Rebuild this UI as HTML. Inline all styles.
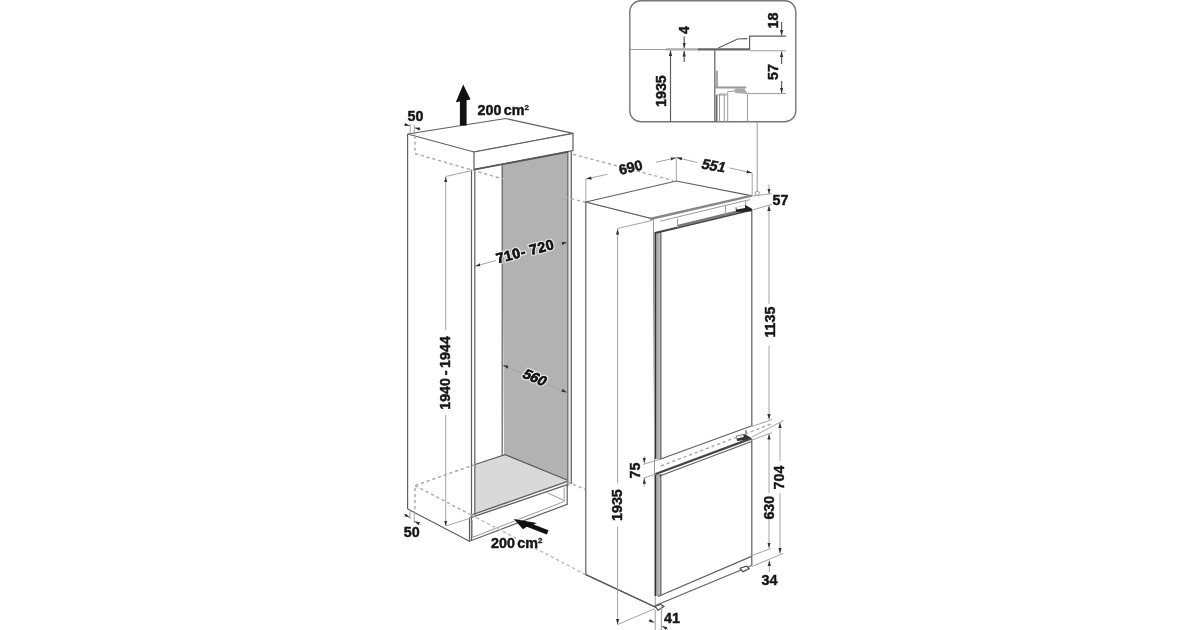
<!DOCTYPE html>
<html><head><meta charset="utf-8">
<style>
html,body{margin:0;padding:0;background:#fff;width:1200px;height:630px;overflow:hidden}
svg{display:block;filter:blur(0.4px)}
text{font-family:"Liberation Sans",sans-serif;font-weight:bold;font-size:14.3px;fill:#161616;stroke:#161616;stroke-width:0.45px}
.l{stroke:#5e5e5e;stroke-width:1.2;fill:none}
.lw{stroke:#5e5e5e;stroke-width:1.2;fill:#fff}
.t{stroke:#9a9a9a;stroke-width:1;fill:none}
.d{stroke:#a4a4a4;stroke-width:1;fill:none}
.ds{stroke:#a8a8a8;stroke-width:1.4;fill:none;stroke-dasharray:3.2 2.8}
.dp{stroke:#bfb4b7;stroke-width:1.4;fill:none;stroke-dasharray:3.2 2.8}
.k{stroke:#444;stroke-width:2.2;fill:none}
.a{fill:#111;stroke:none}
.h{stroke:#fff;stroke-width:3;stroke-opacity:0.6;paint-order:stroke}
</style></head>
<body>
<svg width="1200" height="630" viewBox="0 0 1200 630">
<defs>
<marker id="ar" viewBox="0 0 10 10" refX="10" refY="5" markerWidth="5.5" markerHeight="5.5" orient="auto-start-reverse" markerUnits="userSpaceOnUse">
<path d="M0,2 L10,5 L0,8 z" fill="#333"/>
</marker>
</defs>
<rect width="1200" height="630" fill="#fff"/>

<!-- ============ INSET ============ -->
<g id="inset">
<rect x="629.8" y="0.8" width="166" height="121" rx="11" ry="11" fill="#fff" stroke="#777" stroke-width="1.4"/>
<line class="t" x1="630" y1="49.5" x2="698" y2="49.5" stroke="#999" stroke-width="1.2"/>
<line x1="666" y1="49.3" x2="699" y2="49.3" stroke="#aaa" stroke-width="2.2"/>
<line x1="698" y1="49.3" x2="749.5" y2="49.3" stroke="#666" stroke-width="2.3"/>
<line class="t" x1="749.5" y1="50.8" x2="786" y2="50.8"/>
<polyline class="l" stroke="#777" stroke-width="1.1" points="718.3,48 737.5,39 747.5,38.7"/>
<polyline class="l" stroke="#888" stroke-width="1.1" points="749.6,50 749.6,36.2 786,36.2"/>
<!-- 1935 dim -->
<line class="l" stroke="#666" stroke-width="1" x1="670.5" y1="50.5" x2="670.5" y2="122" marker-start="url(#ar)"/>
<text transform="translate(666.4,107) rotate(-90)">1935</text>
<!-- 4 dim -->
<line class="l" stroke="#888" stroke-width="1" x1="684.2" y1="36.5" x2="684.2" y2="48.2" marker-end="url(#ar)"/>
<line class="l" stroke="#888" stroke-width="1" x1="684.2" y1="62" x2="684.2" y2="51" marker-end="url(#ar)"/>
<text transform="translate(689,34) rotate(-90)">4</text>
<!-- 18 -->
<line class="l" stroke="#888" stroke-width="1" x1="781.6" y1="22" x2="781.6" y2="35.6" marker-end="url(#ar)"/>
<text transform="translate(778.3,28.5) rotate(-90)">18</text>
<!-- 57 -->
<line class="l" stroke="#888" stroke-width="1" x1="781.6" y1="64" x2="781.6" y2="51.4" marker-end="url(#ar)"/>
<line class="l" stroke="#888" stroke-width="1" x1="781.6" y1="81" x2="781.6" y2="93.2" marker-end="url(#ar)"/>
<text transform="translate(778.3,80) rotate(-90)">57</text>
<line class="t" x1="747.8" y1="93.6" x2="786" y2="93.6"/>
<!-- fridge internals -->
<line class="l" stroke="#777" stroke-width="1.1" x1="714.8" y1="50" x2="714.8" y2="122"/>
<rect x="714.8" y="70.8" width="3.2" height="16.5" fill="#aaa"/>
<line x1="714.8" y1="87.4" x2="746.2" y2="87.4" stroke="#999" stroke-width="2"/>
<polygon points="734.9,88.4 744.2,88.4 747.8,94 734.9,93" fill="#aaa"/>
<line class="t" x1="747.5" y1="94" x2="747.5" y2="122"/>
<line x1="716.6" y1="95" x2="716.6" y2="122" stroke="#666" stroke-width="1.7"/>
<line class="t" x1="719.5" y1="94" x2="719.5" y2="122"/>
<line class="t" stroke="#888" x1="724.3" y1="95" x2="724.3" y2="122" stroke-width="1.5"/>
<line class="t" x1="727.7" y1="91.5" x2="727.7" y2="122"/>
<polyline class="t" points="715.8,95 726.6,95"/>
<polyline class="t" points="719.4,94 726.6,94"/>
<polyline class="t" points="727.7,91.5 734.9,91"/>
</g>
<line class="t" x1="757.2" y1="122" x2="757.2" y2="191.2"/>
<circle cx="757.2" cy="193.3" r="2.1" fill="#fff" stroke="#888" stroke-width="0.9"/>

<!-- ============ CABINET ============ -->
<!-- gray back panel -->
<polygon points="502,164 567.6,152.3 567.6,480.7 504,455" fill="#b2b2b2"/>
<line class="l" stroke="#888" x1="502.2" y1="164" x2="502.2" y2="456"/>
<!-- floor -->
<polygon points="475,464.5 504,455 567.6,480.7 567.6,482 475,515.6" fill="#d9d9d9"/>
<polyline class="l" stroke="#777" points="475,464.5 505,454.6 567.6,480.2"/>
<line class="l" stroke="#888" x1="470.5" y1="515.2" x2="567.6" y2="481.4"/>
<line class="t" x1="471" y1="517.8" x2="567" y2="484.5"/>
<!-- right side panel -->
<rect x="567.6" y="150" width="3.6" height="336" fill="#efefef"/>
<line class="l" stroke="#8a8a8a" x1="567.8" y1="150" x2="567.8" y2="486"/>
<line class="l" stroke="#8a8a8a" x1="571.3" y1="150" x2="571.3" y2="484"/>
<!-- left side panel -->
<line class="l" stroke="#6e6e6e" x1="407.6" y1="134" x2="407.6" y2="509"/>
<line class="l" stroke="#8a8a8a" x1="471.5" y1="169.5" x2="471.5" y2="541"/>
<line class="l" stroke="#8a8a8a" x1="474.8" y1="169.5" x2="474.8" y2="515"/>
<line class="l" stroke="#777" x1="407.6" y1="509" x2="469.5" y2="541.2"/>
<!-- plinth -->
<polygon class="l" stroke="#8a8a8a" points="469.5,518 567.2,484.8 567.2,504.3 469.5,541.2"/>
<polyline class="t" stroke="#b5b5b5" points="472.2,520 472.2,537.5 564.2,501.5 564.2,487.5"/>
<polyline class="t" stroke="#bbb" points="547.5,492.8 564,500.5"/>
<!-- top box -->
<polygon class="lw" stroke="#666" points="407.6,134 505.5,118.5 573,133.4 474,152"/>
<polygon class="lw" stroke="#666" points="474,152 573,133.4 573,150.5 474,169.5"/>
<line x1="474" y1="169.7" x2="568" y2="151.9" stroke="#555" stroke-width="1.7"/>
<!-- dashed lines -->
<polyline class="ds" points="415,135.5 415,153.5 502,178.7"/>
<line class="dp" x1="502" y1="178.7" x2="567.6" y2="197.6"/>
<line class="ds" x1="571.2" y1="198.6" x2="586" y2="202.5"/>
<line class="ds" x1="573" y1="154.3" x2="673" y2="180.5"/>
<polyline class="ds" points="475,464.5 415,485.6 415,510"/>
<line class="ds" x1="415" y1="485.6" x2="470" y2="514.3"/>
<line class="dp" x1="471" y1="514.8" x2="585.7" y2="574.6"/>
<line class="ds" x1="567.6" y1="482" x2="585.7" y2="489.6"/>

<!-- up arrow -->
<polygon class="a" points="463.2,84.6 470.6,99.5 466.6,100.3 466.6,125.6 459.9,125.6 459.9,101.4 455.8,102.2"/>
<text x="477.5" y="114.6">200<tspan dx="2.5">cm</tspan><tspan font-size="8" dy="-5" stroke-width="0.3">2</tspan></text>
<text x="407.5" y="120.5">50</text>
<!-- top 50 ticks -->
<line class="d" stroke="#888" x1="410.2" y1="123.5" x2="410.2" y2="134.4"/>
<line class="d" stroke="#999" x1="414.3" y1="125" x2="414.3" y2="136"/>
<line class="d" stroke="#666" x1="403.8" y1="124.3" x2="410" y2="125.8" marker-end="url(#ar)"/>
<line class="d" stroke="#666" x1="420.8" y1="129.4" x2="414.5" y2="127.8" marker-end="url(#ar)"/>

<!-- 1940 - 1944 dim -->
<line class="d" x1="445.7" y1="176.5" x2="472" y2="170.5"/>
<line class="d" x1="445.7" y1="330" x2="445.7" y2="176.8" marker-end="url(#ar)"/>
<line class="d" x1="445.7" y1="415" x2="445.7" y2="526" marker-end="url(#ar)"/>
<line class="d" x1="445.7" y1="526" x2="471.5" y2="517.8"/>
<text transform="translate(450.3,409.8) rotate(-90)" word-spacing="-1.3">1940 - 1944</text>

<!-- 710-720 dim -->
<line class="d" stroke="#777" x1="496" y1="260.5" x2="475" y2="266.2" marker-end="url(#ar)"/>
<line class="d" stroke="#777" x1="555.5" y1="244.4" x2="567.2" y2="242.4" marker-end="url(#ar)"/>
<text class="h" transform="translate(497.5,263.5) rotate(-14.4)" textLength="59">710- 720</text>
<text transform="translate(497.5,263.5) rotate(-14.4)" textLength="59">710- 720</text>

<!-- 560 dim -->
<line class="d" stroke="#777" x1="522" y1="373.3" x2="503" y2="365.1" marker-end="url(#ar)"/>
<line class="d" stroke="#777" x1="549" y1="384.8" x2="567" y2="392.5" marker-end="url(#ar)"/>
<text class="h" transform="translate(521.2,377) rotate(23) skewX(-12)">560</text>
<text transform="translate(521.2,377) rotate(23) skewX(-12)">560</text>

<!-- bottom 50 -->
<line class="d" stroke="#888" x1="410" y1="508.6" x2="410" y2="519"/>
<line class="d" stroke="#999" x1="414.2" y1="511" x2="414.2" y2="523"/>
<line class="d" stroke="#666" x1="403.6" y1="514.2" x2="409.8" y2="517.4" marker-end="url(#ar)"/>
<line class="d" stroke="#666" x1="420.8" y1="524.6" x2="414.4" y2="521.3" marker-end="url(#ar)"/>
<text x="403.8" y="536.8">50</text>
<!-- bottom arrow -->
<g transform="translate(513.7,519) rotate(21.5)">
<polygon class="a" points="0,0 23,-4.8 20.5,-2.1 36.5,-2.3 36.5,2.3 15,2.5 12.4,6"/>
</g>
<text x="491" y="548">200<tspan dx="2.5">cm</tspan><tspan font-size="8" dy="-5" stroke-width="0.3">2</tspan></text>

<!-- ============ FRIDGE ============ -->
<polygon class="lw" stroke="#6a6a6a" points="585.8,202 653.6,219 655.5,607 585.8,574.6"/>
<polygon class="lw" stroke="#666" points="585.8,202 676.3,181 752.2,195.8 653.6,219"/>
<polygon points="653.6,219 752.2,195.8 752.2,565.6 655.5,606.5" fill="#fff"/>
<line class="l" stroke="#777" x1="751.8" y1="209.5" x2="751.8" y2="426.2"/>
<line class="l" stroke="#777" x1="751.8" y1="438.7" x2="751.8" y2="565.6"/>
<line class="l" stroke="#888" x1="745.9" y1="430" x2="745.9" y2="436.5"/>
<!-- top front band -->
<line x1="650" y1="219" x2="752" y2="195.6" stroke="#888" stroke-width="2.4"/>
<line class="t" stroke="#666" x1="660" y1="221.2" x2="750" y2="199.6"/>
<!-- upper door -->
<rect x="654" y="232" width="7.5" height="227" fill="#a8a8a8"/>
<line x1="655.5" y1="232" x2="655.5" y2="459" stroke="#333" stroke-width="1.2"/>
<line x1="660.6" y1="233" x2="660.6" y2="459" stroke="#777" stroke-width="1.4"/>
<line x1="659.2" y1="233" x2="659.2" y2="459" stroke="#ccc" stroke-width="1"/>
<line class="k" x1="655" y1="233" x2="752" y2="209.8"/>
<line class="l" x1="660" y1="459.3" x2="751.3" y2="426"/>
<!-- hinge details -->
<line x1="678" y1="226" x2="740" y2="211" stroke="#7a7a7a" stroke-width="2.4"/>
<line class="t" stroke="#777" x1="677.6" y1="218.5" x2="677.6" y2="228"/>
<line class="t" stroke="#777" x1="725.5" y1="206" x2="725.5" y2="215.4"/>
<line class="t" stroke="#777" x1="745.7" y1="200" x2="745.7" y2="207"/>
<polygon points="735.5,207.5 745.7,205.2 751.7,208.6 751.7,211.3 736.2,212" fill="#222"/>
<polygon points="736.5,207 745,205.5 745,208 736.5,209.5" fill="#fff"/>
<!-- mid hinge -->
<polygon points="736,436 744,434 750,437 750,439.5 737,441" fill="#333"/>
<polygon points="737,436.3 743.5,434.8 743.5,437 737,438.5" fill="#fff"/>
<!-- gap dashed -->
<line class="ds" stroke="#c8c8c8" x1="661" y1="466" x2="773" y2="423.3" stroke-width="0.9" stroke-dasharray="4 3"/>
<!-- lower door -->
<rect x="654" y="474" width="7.5" height="122" fill="#a8a8a8"/>
<line x1="655.5" y1="474" x2="655.5" y2="596" stroke="#333" stroke-width="1.2"/>
<line x1="660.6" y1="474" x2="660.6" y2="596" stroke="#777" stroke-width="1.4"/>
<line x1="659.2" y1="474" x2="659.2" y2="596" stroke="#ccc" stroke-width="1"/>
<line class="k" stroke="#333" stroke-width="1.6" x1="655" y1="474.2" x2="751.5" y2="438.4"/>
<line class="l" stroke="#888" stroke-width="1.1" x1="659" y1="476.3" x2="751.5" y2="441.5"/>
<line class="l" x1="658" y1="596.5" x2="751.5" y2="556.4"/>
<line class="l" stroke="#666" x1="655.5" y1="605.5" x2="751.8" y2="565.5"/>
<line class="l" x1="585.8" y1="574.6" x2="655.5" y2="607.2"/>
<!-- feet -->
<polygon points="655.2,606.3 661,604.3 664,606.5 658,610.2" fill="#fff" stroke="#444" stroke-width="1.1"/>
<polygon points="740,568.3 746.5,566.2 749.2,568.6 743,571.7" fill="#fff" stroke="#444" stroke-width="1.1"/>

<!-- 690 dim -->
<line class="d" x1="585.8" y1="178.8" x2="585.8" y2="202"/>
<line class="d" stroke="#888" x1="607.3" y1="174.3" x2="586.2" y2="179" marker-end="url(#ar)"/>
<line class="d" stroke="#888" x1="656" y1="162.3" x2="676" y2="157.8" marker-end="url(#ar)"/>
<text transform="translate(620.2,175) rotate(-14)">690</text>
<!-- 551 dim -->
<line class="d" x1="676.3" y1="157" x2="676.3" y2="181"/>
<line class="d" stroke="#888" x1="697.5" y1="162.5" x2="676.5" y2="157.6" marker-end="url(#ar)"/>
<line class="d" stroke="#888" x1="729.2" y1="167.9" x2="752" y2="172.9" marker-end="url(#ar)"/>
<line class="d" x1="752.2" y1="173" x2="752.2" y2="195.5"/>
<text transform="translate(700.5,168.3) rotate(10) skewX(-10)">551</text>
<!-- 57 dim -->
<line class="d" x1="752.7" y1="196" x2="771.7" y2="193.7"/>
<line class="d" x1="752.7" y1="209.9" x2="771.7" y2="204.4"/>
<line class="d" stroke="#888" x1="769" y1="184.5" x2="769" y2="194" marker-end="url(#ar)"/>
<text x="772.5" y="205.2">57</text>
<!-- 1135 -->
<line class="d" x1="769" y1="303.7" x2="769" y2="205.5" marker-end="url(#ar)"/>
<line class="d" x1="769" y1="345.6" x2="769" y2="419.5" marker-end="url(#ar)"/>
<text transform="translate(774.6,337.6) rotate(-90)">1135</text>
<!-- ext lines middle -->
<line class="d" x1="752" y1="426.5" x2="772" y2="419.5"/>
<line class="d" x1="752" y1="437" x2="783.5" y2="420.5"/>
<line class="d" x1="752" y1="440" x2="772" y2="432.7"/>
<!-- 704 -->
<line class="d" x1="780" y1="461" x2="780" y2="422.5" marker-end="url(#ar)"/>
<line class="d" x1="780" y1="493" x2="780" y2="553.5" marker-end="url(#ar)"/>
<text transform="translate(784,489.5) rotate(-90)">704</text>
<!-- 630 -->
<line class="d" x1="769" y1="493" x2="769" y2="434" marker-end="url(#ar)"/>
<line class="d" x1="769" y1="519.5" x2="769" y2="548" marker-end="url(#ar)"/>
<text transform="translate(774.2,519.6) rotate(-90)">630</text>
<!-- bottom ext -->
<line class="d" x1="752" y1="555.5" x2="771" y2="548.5"/>
<line class="d" x1="752" y1="566.5" x2="783" y2="553.5"/>
<!-- 34 -->
<line class="d" stroke="#888" x1="769.3" y1="572" x2="769.3" y2="560.5" marker-end="url(#ar)"/>
<text x="761.5" y="584.6">34</text>
<!-- 75 -->
<line class="d" x1="643" y1="464.4" x2="660" y2="459.3"/>
<line class="d" x1="643" y1="478.4" x2="656" y2="474"/>
<line class="d" stroke="#888" x1="644.3" y1="456" x2="644.3" y2="463.3" marker-end="url(#ar)"/>
<line class="d" stroke="#888" x1="644.3" y1="486.6" x2="644.3" y2="478.2" marker-end="url(#ar)"/>
<text transform="translate(639.7,478.4) rotate(-90)">75</text>
<!-- 1935 fridge -->
<line class="d" x1="617.5" y1="228.5" x2="652.5" y2="220.3"/>
<line class="d" x1="617.6" y1="483.3" x2="617.6" y2="229" marker-end="url(#ar)"/>
<line class="d" x1="617.6" y1="526.5" x2="617.6" y2="624.5" marker-end="url(#ar)"/>
<line class="d" x1="617.6" y1="624.5" x2="655" y2="608.6"/>
<text transform="translate(621.7,521) rotate(-90)">1935</text>
<!-- 41 -->
<line class="t" stroke="#bbb" x1="655.2" y1="610" x2="655.2" y2="630"/>
<line class="t" stroke="#bbb" x1="661.4" y1="604" x2="661.4" y2="630"/>
<line class="d" stroke="#888" x1="648.5" y1="620" x2="654.6" y2="622.5" marker-end="url(#ar)"/>
<line class="d" stroke="#888" x1="668" y1="629.5" x2="662" y2="626" marker-end="url(#ar)"/>
<text x="664" y="623.3">41</text>
</svg>
</body></html>
